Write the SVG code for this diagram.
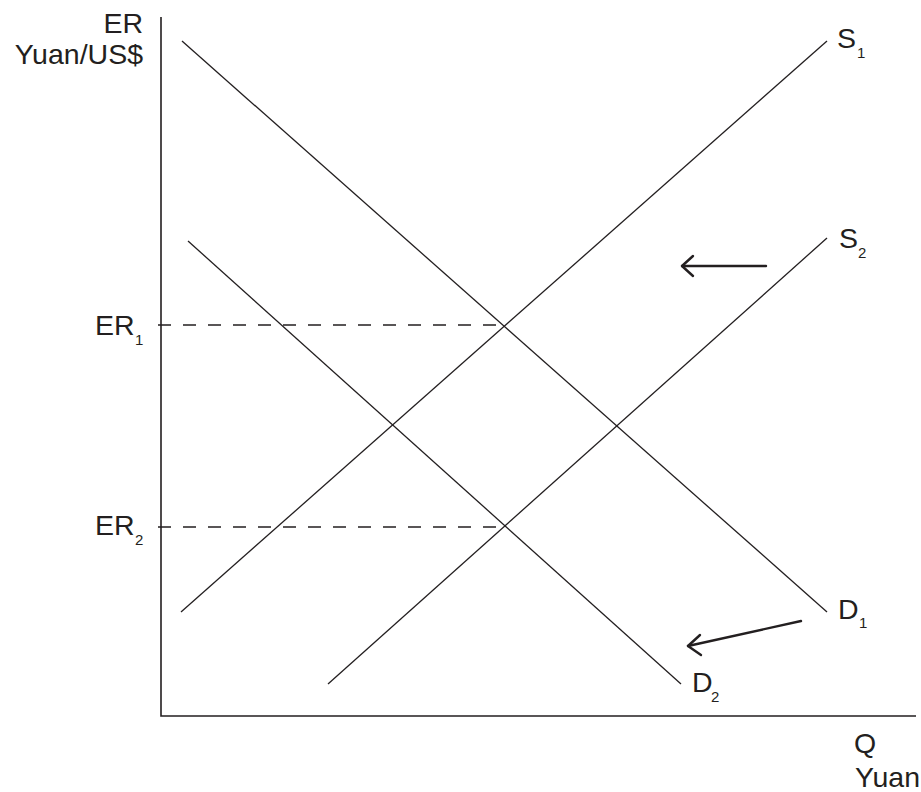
<svg xmlns="http://www.w3.org/2000/svg" width="921" height="792" viewBox="0 0 921 792">
<style>
.lbl{font-family:"Liberation Sans",Arial,sans-serif;font-size:28.5px;fill:#231f20}
.sub{font-size:15px}
.curve{stroke:#231f20;stroke-width:1.3;fill:none}
.axis{stroke:#231f20;stroke-width:1.6;fill:none}
.dash{stroke:#231f20;stroke-width:1.5;stroke-dasharray:13 12;fill:none}
.arrow{stroke:#231f20;stroke-width:2.4;fill:none;stroke-linecap:round;stroke-linejoin:round}
</style>
<rect width="921" height="792" fill="#ffffff"/>
<g id="axes">
<path class="axis" d="M161,17 V716 H916"/>
</g>
<g id="labels-axes">
<text class="lbl" x="143" y="33" text-anchor="end">ER</text>
<text class="lbl" x="143" y="64" text-anchor="end">Yuan/US$</text>
<text class="lbl" x="854" y="753">Q</text>
<text class="lbl" x="855" y="787">Yuan</text>
</g>
<g id="connectors">
<line class="dash" x1="158" y1="325" x2="505" y2="325"/>
<line class="dash" x1="158" y1="527" x2="505" y2="527"/>
<line class="arrow" x1="766" y1="266" x2="682" y2="266"/>
<path class="arrow" d="M693,256 L682,266 L693,276"/>
<line class="arrow" x1="801" y1="621" x2="688" y2="646"/>
<path class="arrow" d="M700,635 L688,646 L701,655"/>
</g>
<g id="D1">
<line class="curve" x1="182" y1="41" x2="827" y2="612"/>
<text class="lbl" x="838" y="619">D<tspan class="sub" x="859" y="628">1</tspan></text>
</g>
<g id="D2">
<line class="curve" x1="188" y1="241" x2="681" y2="684"/>
<text class="lbl" x="692" y="692">D<tspan class="sub" x="711" y="702">2</tspan></text>
</g>
<g id="S1">
<line class="curve" x1="181" y1="612" x2="827" y2="41"/>
<text class="lbl" x="837" y="48">S<tspan class="sub" x="857" y="58">1</tspan></text>
</g>
<g id="S2">
<line class="curve" x1="328" y1="684" x2="827" y2="238"/>
<text class="lbl" x="839" y="248">S<tspan class="sub" x="858" y="258">2</tspan></text>
</g>
<g id="ER1">
<text class="lbl" x="95" y="335">ER<tspan class="sub" x="135" y="345">1</tspan></text>
</g>
<g id="ER2">
<text class="lbl" x="95" y="535">ER<tspan class="sub" x="135" y="545">2</tspan></text>
</g>
</svg>
